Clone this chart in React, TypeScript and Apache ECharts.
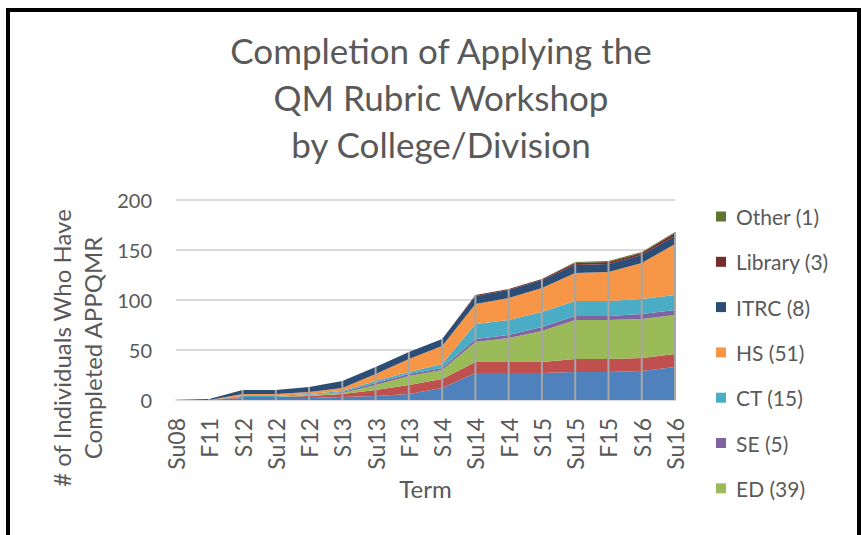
import React, { useEffect, useRef } from "react";
import * as echarts from "echarts";

const terms = ["Su08", "F11", "S12", "Su12", "F12", "S13", "Su13", "F13", "S14", "Su14", "F14", "S15", "Su15", "F15", "S16", "Su16"];

// stacked from bottom to top
const collegeA = [0, 0, 2, 2, 2, 3, 4, 6, 12, 27, 27, 27, 28, 28, 29, 33];
const collegeB = [0, 0, 1, 1, 2, 3, 6, 9, 9, 11, 11, 11, 13, 13, 13, 13];
const ed = [0, 0, 0, 0, 1, 1, 5, 9, 9, 20, 24, 31, 39, 39, 39, 39];
const se = [0, 0, 0, 0, 0, 1, 2, 2, 2, 3, 3, 4, 4, 4, 5, 5];
const ct = [0, 0, 1, 1, 1, 1, 2, 2, 4, 15, 15, 15, 15, 15, 15, 15];
const hs = [0, 0, 2, 2, 2, 3, 7, 13, 18, 20, 22, 24, 28, 29, 36, 51];
const itrc = [0, 1, 4, 4, 5, 7, 7, 7, 7, 8, 8, 8, 8, 8, 8, 8];
const library = [0, 0, 0, 0, 0, 0, 0, 0, 0, 1, 1, 1, 2, 2, 2, 3];
const other = [0, 0, 0, 0, 0, 0, 0, 0, 0, 0, 0, 0, 1, 1, 1, 1];

const seriesNames = ["College A (33)", "College B (13)", "ED (39)", "SE (5)", "CT (15)", "HS (51)", "ITRC (8)", "Library (3)", "Other (1)"];
const seriesData = [collegeA, collegeB, ed, se, ct, hs, itrc, library, other];
const seriesColors = ["#4F81BD", "#C0504D", "#9BBB59", "#8064A2", "#4BACC6", "#F79646", "#2C4D75", "#772C2A", "#5F7530"];
const legendOrder = ["Other (1)", "Library (3)", "ITRC (8)", "HS (51)", "CT (15)", "SE (5)", "ED (39)"];

const yTicks = { min: 0, max: 200, interval: 50 };

const FONT = "Lato";
const GREY_TEXT = "#595959";

export default function App() {
  const ref = useRef<HTMLDivElement>(null);
  useEffect(() => {
    if (!ref.current) return;
    const chart = echarts.init(ref.current, undefined, { renderer: "svg" });
    const totals = terms.map((_, i) => seriesData.reduce((s, arr) => s + arr[i], 0));
    const areaSeries = seriesNames.map((name, k) => ({
      name,
      type: "line",
      stack: "total",
      data: seriesData[k],
      showSymbol: false,
      symbol: "none",
      lineStyle: { width: 0 },
      itemStyle: { color: seriesColors[k] },
      areaStyle: { color: seriesColors[k], opacity: 1 },
      z: 2,
    }));
    chart.setOption({
      animation: false,
      backgroundColor: "#ffffff",
      textStyle: { fontFamily: FONT },
      title: {
        text: "Completion of Applying the\nQM Rubric Workshop\nby College/Division",
        left: 436,
        textAlign: "center",
        top: 21,
        textStyle: { fontFamily: FONT, fontSize: 35, fontWeight: "normal", color: GREY_TEXT, lineHeight: 47 },
      },
      legend: {
        orient: "vertical",
        left: 711,
        top: 201,
        data: legendOrder,
        icon: "rect",
        itemWidth: 10,
        itemHeight: 10,
        itemGap: 24.3,
        selectedMode: false,
        textStyle: { fontFamily: FONT, fontSize: 21, color: GREY_TEXT, lineHeight: 20, padding: [0, 0, 0, 5] },
      },
      grid: { left: 176, right: 187, top: 200, bottom: 135, containLabel: false },
      xAxis: {
        type: "category",
        data: terms,
        boundaryGap: false,
        name: "Term",
        nameLocation: "middle",
        nameGap: 76,
        nameTextStyle: { fontFamily: FONT, fontSize: 24, color: GREY_TEXT },
        axisLine: { show: true, lineStyle: { color: "#d9d9d9", width: 2 } },
        axisTick: { show: false },
        axisLabel: { rotate: 90, margin: 18, fontFamily: FONT, fontSize: 23, color: GREY_TEXT },
        splitLine: { show: false },
      },
      yAxis: {
        type: "value",
        min: yTicks.min,
        max: yTicks.max,
        interval: yTicks.interval,
        axisLine: { show: false },
        axisTick: { show: false },
        axisLabel: { margin: 24, fontFamily: FONT, fontSize: 20, color: GREY_TEXT },
        splitLine: { show: true, lineStyle: { color: "#d9d9d9", width: 2 } },
      },
      graphic: [
        {
          type: "rect",
          shape: { x: 8, y: 10, width: 851, height: 620 },
          style: { fill: "none", stroke: "#000000", lineWidth: 4 },
          silent: true,
          z: 100,
        },
        {
          type: "text",
          x: 77,
          y: 348,
          rotation: Math.PI / 2,
          style: {
            text: "# of Individuals Who Have\nCompleted APPQMR",
            align: "center",
            verticalAlign: "middle",
            fontFamily: FONT,
            fontSize: 24,
            lineHeight: 31,
            fill: GREY_TEXT,
          },
        },
      ],
      series: [
        ...areaSeries,
        {
          name: "drop",
          type: "bar",
          data: totals,
          barWidth: 2,
          itemStyle: { color: "#a6a6a6" },
          z: 3,
          silent: true,
        },
      ],
    });
    return () => chart.dispose();
  }, []);
  return (
    <div style={{ position: "fixed", left: 0, top: 0, width: 862, height: 535, overflow: "hidden", background: "#fff" }}>
      <div ref={ref} style={{ width: 862, height: 535 }} />
    </div>
  );
}
